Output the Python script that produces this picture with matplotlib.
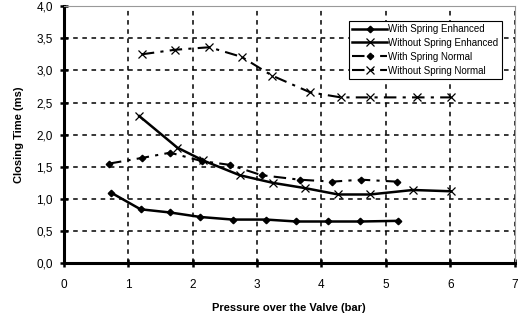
import numpy as np
import pandas as pd
import matplotlib
matplotlib.use("Agg")
import matplotlib.pyplot as plt
from matplotlib.ticker import FuncFormatter, MultipleLocator

plt.rcParams['font.family'] = ['Liberation Sans', 'DejaVu Sans']

# with spring enhanced
wse_x = [0.73, 1.19, 1.65, 2.12, 2.62, 3.14, 3.61, 4.10, 4.60, 5.19]
wse_y = [1.10, 0.84, 0.79, 0.72, 0.68, 0.68, 0.65, 0.65, 0.65, 0.66]
# without spring enhanced
wose_x = [1.17, 1.76, 2.16, 2.73, 3.25, 3.74, 4.26, 4.75, 5.42, 6.01]
wose_y = [2.29, 1.80, 1.60, 1.37, 1.25, 1.17, 1.07, 1.07, 1.14, 1.12]
# with spring normal
wsn_x = [0.70, 1.22, 1.65, 2.14, 2.58, 3.07, 3.66, 4.17, 4.62, 5.17]
wsn_y = [1.55, 1.64, 1.72, 1.59, 1.53, 1.37, 1.30, 1.27, 1.30, 1.27]
# without spring normal
wosn_x = [1.21, 1.72, 2.26, 2.76, 3.23, 3.82, 4.30, 4.76, 5.49, 6.01]
wosn_y = [3.25, 3.32, 3.36, 3.21, 2.92, 2.66, 2.58, 2.58, 2.58, 2.58]

fig = plt.figure(figsize=(5.19, 3.20), dpi=100)
ax = fig.add_axes([0.1231, 0.1772, 0.8686, 0.8038])

dashdot = (0, (6, 3, 1.5, 3))
ax.plot(wse_x, wse_y, color='black', lw=1.8, marker='D', ms=3.3,
        label='With Spring Enhanced')
ax.plot(wose_x, wose_y, color='black', lw=1.8, marker='x', ms=6, mew=0.9,
        label='Without Spring Enhanced')
ax.plot(wsn_x, wsn_y, color='black', lw=1.5, ls=dashdot, marker='D', ms=3.3,
        label='With Spring Normal')
ax.plot(wosn_x, wosn_y, color='black', lw=1.5, ls=dashdot, marker='x', ms=6, mew=0.9,
        label='Without Spring Normal')

ax.set_xlim(0, 7)
ax.set_ylim(0, 4)
ax.xaxis.set_major_locator(MultipleLocator(1))
ax.yaxis.set_major_locator(MultipleLocator(0.5))
ax.yaxis.set_major_formatter(FuncFormatter(lambda v, p: f"{v:.1f}".replace('.', ',')))
ax.grid(True, color='black', ls=(0, (3, 3)), lw=1.1)
ax.set_axisbelow(True)

for s in ['top', 'right']:
    ax.spines[s].set_color('#999999')
    ax.spines[s].set_linewidth(0.8)
for s in ['left', 'bottom']:
    ax.spines[s].set_linewidth(2.2)
ax.tick_params(direction='inout', length=6, width=1.8, labelsize=8.5)
ax.tick_params(axis='x', pad=8)
ax.tick_params(axis='y', pad=5)

ax.set_xlabel('Pressure over the Valve (bar)', fontsize=8, fontweight='bold', labelpad=9)
ax.set_ylabel('Closing Time (ms)', fontsize=8, fontweight='bold', labelpad=9)

leg = ax.legend(loc='upper right', bbox_to_anchor=(0.978, 0.955), fontsize=7,
                frameon=True, fancybox=False, edgecolor='black', framealpha=1,
                handlelength=3.6, handletextpad=0.1, borderpad=0.35, labelspacing=0.4,
                borderaxespad=0.3)
leg.get_frame().set_linewidth(0.8)

fig.savefig('out.png', dpi=100)
